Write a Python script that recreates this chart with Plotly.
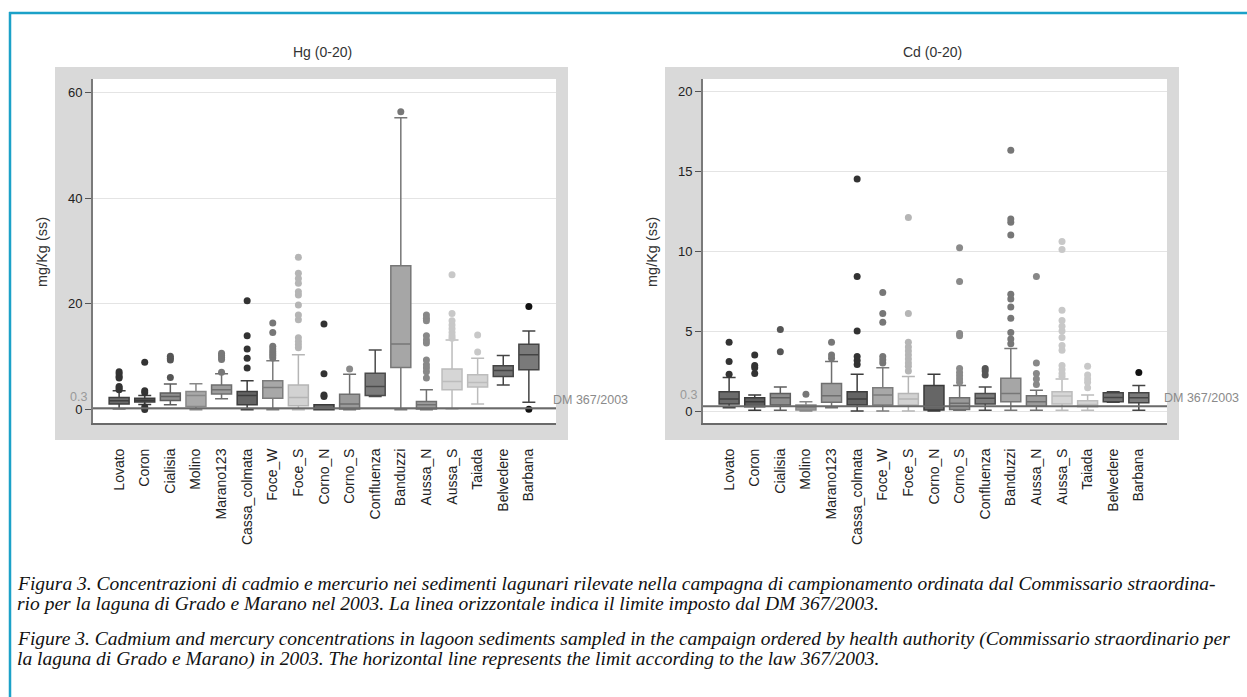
import plotly.graph_objects as go

# ---------------- data ----------------
categories = ["Lovato", "Coron", "Cialisia", "Molino", "Marano123", "Cassa_colmata",
              "Foce_W", "Foce_S", "Corno_N", "Corno_S", "Confluenza", "Banduzzi",
              "Aussa_N", "Aussa_S", "Taiada", "Belvedere", "Barbana"]

# Hg (0-20) mg/Kg
hg_q1 = [1.1, 1.45, 1.75, 0.63, 3.0, 0.95, 2.2, 0.75, 0.0, 0.13, 2.7, 8.0, 0.13, 3.8, 4.3, 6.3, 7.55]
hg_median = [1.7, 1.8, 2.5, 2.7, 3.8, 2.7, 4.2, 2.3, 0.15, 1.1, 4.4, 12.45, 0.95, 5.35, 5.15, 7.4, 10.4]
hg_q3 = [2.3, 2.2, 3.15, 3.45, 4.7, 3.45, 5.5, 4.7, 0.95, 2.95, 6.9, 27.2, 1.57, 7.7, 6.6, 8.3, 12.4]
hg_lower = [0.2, 1.0, 0.95, 0.0, 2.1, 0.0, 0.0, 0.0, 0.0, 0.0, 2.5, 0.0, 0.0, 0.1, 1.1, 4.7, 1.4]
hg_upper = [3.6, 2.7, 4.85, 4.9, 6.8, 5.5, 9.25, 10.4, 0.95, 6.7, 11.3, 55.2, 3.8, 13.2, 9.75, 10.25, 14.9]
hg_outliers = [
    [3.8, 4.1, 4.4, 6.0, 6.3, 6.8, 7.2],
    [0.05, 0.5, 3.2, 3.6, 9.0],
    [6.1, 9.4, 9.75, 10.1],
    [],
    [7.1, 9.5, 9.9, 10.3, 10.7],
    [7.9, 9.75, 11.5, 14.0, 20.6],
    [9.8, 10.2, 10.6, 11.0, 11.5, 12.0, 14.6, 16.4],
    [11.7, 12.3, 12.9, 13.6, 17.0, 17.9, 19.8, 21.7, 22.3, 23.9, 24.8, 25.8, 28.8],
    [2.5, 2.8, 6.8, 16.2],
    [7.7],
    [],
    [56.3],
    [6.0, 7.2, 7.9, 8.5, 9.4, 12.6, 13.2, 14.0, 16.8, 17.3, 17.9],
    [13.5, 14.0, 14.6, 15.3, 16.0, 16.8, 18.2, 25.5],
    [10.9, 14.15],
    [],
    [0.1, 19.5],
]

# Cd (0-20) mg/Kg
cd_q1 = [0.44, 0.27, 0.37, 0.06, 0.55, 0.37, 0.37, 0.37, 0.06, 0.1, 0.44, 0.58, 0.3, 0.44, 0.27, 0.58, 0.52]
cd_median = [0.75, 0.58, 0.83, 0.2, 0.95, 0.75, 1.0, 0.75, 0.3, 0.48, 0.8, 1.1, 0.58, 0.93, 0.4, 0.85, 0.83]
cd_q3 = [1.2, 0.83, 1.1, 0.37, 1.72, 1.2, 1.45, 1.1, 1.6, 0.83, 1.1, 2.05, 0.95, 1.2, 0.64, 1.14, 1.14]
cd_lower = [0.2, 0.05, 0.05, 0.0, 0.2, 0.0, 0.0, 0.0, 0.0, 0.05, 0.05, 0.05, 0.05, 0.05, 0.05, 0.55, 0.05]
cd_upper = [2.1, 1.0, 1.5, 0.58, 3.1, 2.3, 2.7, 2.15, 2.3, 1.6, 1.5, 3.9, 1.3, 2.0, 1.0, 1.2, 1.6]
cd_outliers = [
    [2.3, 3.1, 4.3],
    [2.35, 2.7, 2.85, 3.5],
    [3.7, 5.1],
    [1.04],
    [3.3, 3.5, 4.3],
    [2.9, 3.15, 3.4, 5.0, 8.4, 14.5],
    [3.0, 3.2, 3.4, 5.55, 6.1, 7.4],
    [2.5, 2.8, 3.0, 3.25, 3.5, 3.75, 4.0, 4.3, 6.1, 12.1],
    [],
    [1.8, 2.0, 2.2, 2.4, 2.65, 4.7, 4.85, 8.1, 10.2],
    [2.25, 2.5, 2.65],
    [4.2, 4.5, 4.9, 5.8, 6.5, 7.0, 7.3, 11.0, 11.8, 12.0, 16.3],
    [1.65, 2.0, 2.35, 3.0, 8.4],
    [2.15, 2.35, 2.6, 2.85, 3.8, 4.1, 4.6, 5.0, 5.3, 5.65, 6.3, 10.1, 10.6],
    [1.45, 1.8, 2.0, 2.25, 2.8],
    [],
    [2.4],
]

DM_LIMIT = 0.3
hg_ticks = [0, 20, 40, 60]
cd_ticks = [0, 5, 10, 15, 20]

caption_lines = [
    "Figura 3. Concentrazioni di cadmio e mercurio nei sedimenti lagunari rilevate nella campagna di campionamento ordinata dal Commissario straordina-",
    "rio per la laguna di Grado e Marano nel 2003. La linea orizzontale indica il limite imposto dal DM 367/2003.",
    "Figure 3. Cadmium and mercury concentrations in lagoon sediments sampled in the campaign ordered by health authority (Commissario straordinario per",
    "la laguna di Grado e Marano) in 2003. The horizontal line represents the limit according to the law 367/2003.",
]

# ---------------- styles ----------------
W, H = 1247, 697
fills = ["#6b6b6b", "#5e5e5e", "#8e8e8e", "#a9a9a9", "#9d9d9d", "#646464", "#a8a8a8", "#d2d2d2",
         "#666666", "#9a9a9a", "#7c7c7c", "#a6a6a6", "#9c9c9c", "#d6d6d6", "#d4d4d4", "#727272", "#7a7a7a"]
edges = ["#3f3f3f", "#3a3a3a", "#5e5e5e", "#888888", "#6f6f6f", "#3d3d3d", "#7c7c7c", "#b5b5b5",
         "#3a3a3a", "#6e6e6e", "#4b4b4b", "#777777", "#707070", "#bcbcbc", "#bcbcbc", "#444444", "#444444"]
outc = ["#333333", "#333333", "#555555", "#777777", "#777777", "#333333", "#777777", "#b5b5b5",
        "#333333", "#8a8a8a", "#555555", "#777777", "#888888", "#c8c8c8", "#c8c8c8", "#444444", "#111111"]
FONT = "Liberation Sans, Arial, sans-serif"


def px(x):
    return x / W


def py(y):
    return 1 - y / H


fig = go.Figure()


def add_panel(xa, ya, q1, med, q3, lo, up, outs):
    for i, c in enumerate(categories):
        fig.add_trace(go.Box(
            x=[c], q1=[q1[i]], median=[med[i]], q3=[q3[i]],
            lowerfence=[lo[i]], upperfence=[up[i]],
            xaxis=xa, yaxis=ya, fillcolor=fills[i],
            line=dict(color=edges[i], width=1.5), width=0.78, whiskerwidth=0.65,
            boxpoints=False, showlegend=False, hoverinfo="skip"))
    xs, ys, cs = [], [], []
    for i, c in enumerate(categories):
        for v in outs[i]:
            xs.append(c)
            ys.append(v)
            cs.append(outc[i])
    fig.add_trace(go.Scatter(x=xs, y=ys, xaxis=xa, yaxis=ya, mode="markers",
                             marker=dict(color=cs, size=7, line=dict(width=0)),
                             showlegend=False, hoverinfo="skip"))


add_panel("x", "y", hg_q1, hg_median, hg_q3, hg_lower, hg_upper, hg_outliers)
add_panel("x2", "y2", cd_q1, cd_median, cd_q3, cd_lower, cd_upper, cd_outliers)

ydom = [py(423), py(79)]
xcommon = dict(type="category", categoryorder="array", categoryarray=categories,
               tickangle=-90, showline=True, linecolor="#6a6a6a", linewidth=2,
               ticks="", showgrid=False, zeroline=False, ticklabelstandoff=18,
               tickfont=dict(family=FONT, size=14, color="#222"))
ycommon = dict(showgrid=True, gridcolor="#e4e4e4", gridwidth=1, zeroline=False,
               showline=True, linecolor="#7a7a7a", linewidth=2, ticks="outside",
               ticklen=6, tickcolor="#555", tickwidth=1,
               tickfont=dict(family=FONT, size=13, color="#222"))

fig.update_layout(
    width=W, height=H, margin=dict(l=0, r=0, t=0, b=0),
    paper_bgcolor="white", plot_bgcolor="rgba(0,0,0,0)",
    xaxis=dict(domain=[px(93), px(556)], anchor="y", range=[-1.02, 17.06], **xcommon),
    yaxis=dict(domain=ydom, anchor="x", range=[-2.5, 62.5], tickvals=hg_ticks, **ycommon),
    xaxis2=dict(domain=[px(703), px(1167)], anchor="y2", range=[-1.02, 17.1], **xcommon),
    yaxis2=dict(domain=ydom, anchor="x2", range=[-0.75, 20.75], tickvals=cd_ticks, **ycommon),
)

shapes = []
# gray panels and white plot areas
for gx0, gx1, wx0, wx1 in [(55, 568, 93, 556), (665, 1179, 703, 1167)]:
    shapes.append(dict(type="rect", xref="paper", yref="paper", x0=px(gx0), x1=px(gx1),
                       y0=py(440), y1=py(67), fillcolor="#d9d9d9", line=dict(width=0), layer="below"))
    shapes.append(dict(type="rect", xref="paper", yref="paper", x0=px(wx0), x1=px(wx1),
                       y0=py(423), y1=py(79), fillcolor="white", line=dict(width=0), layer="below"))
# DM limit lines
for xr, yr in [("x domain", "y"), ("x2 domain", "y2")]:
    shapes.append(dict(type="line", xref=xr, yref=yr, x0=0, x1=1, y0=DM_LIMIT, y1=DM_LIMIT,
                       line=dict(color="#6a6a6a", width=2), layer="above"))
# page border
shapes.append(dict(type="line", xref="paper", yref="paper", x0=px(9), x1=1, y0=py(13), y1=py(13),
                   line=dict(color="#1ba1c8", width=2.5)))
shapes.append(dict(type="line", xref="paper", yref="paper", x0=px(10), x1=px(10), y0=0, y1=py(12),
                   line=dict(color="#1ba1c8", width=2.5)))
fig.update_layout(shapes=shapes)

ann = []
for xc, t in [(322, "Hg (0-20)"), (932, "Cd (0-20)")]:
    ann.append(dict(x=px(xc), y=py(52), xref="paper", yref="paper", text=t, showarrow=False,
                    xanchor="center", yanchor="middle", font=dict(family=FONT, size=14, color="#333")))
for xc in [42, 652]:
    ann.append(dict(x=px(xc), y=py(252), xref="paper", yref="paper", text="mg/Kg (ss)",
                    showarrow=False, textangle=-90, xanchor="center", yanchor="middle",
                    font=dict(family=FONT, size=14.5, color="#333")))
for xr, yr in [("x domain", "y"), ("x2 domain", "y2")]:
    ann.append(dict(x=0, y=DM_LIMIT, xref=xr, yref=yr, text="0.3", showarrow=False,
                    xanchor="right", yanchor="middle", xshift=-4, yshift=11,
                    font=dict(family=FONT, size=12.5, color="#9a9a9a")))
    ann.append(dict(x=1, y=DM_LIMIT, xref=xr, yref=yr, text="DM 367/2003", showarrow=False,
                    xanchor="left", yanchor="middle", xshift=-5, yshift=8,
                    font=dict(family=FONT, size=12.5, color="#8a8a8a")))
for yc, t in zip([583, 603, 639, 659], caption_lines):
    ann.append(dict(x=px(15), y=py(yc), xref="paper", yref="paper", text=t, showarrow=False,
                    xanchor="left", yanchor="middle",
                    font=dict(family="Liberation Serif, serif", size=19.5, color="#111", style="italic")))
fig.update_layout(annotations=ann)

fig.write_html("out.html", config={"displayModeBar": False},
               post_script="document.body.style.margin='0px';document.body.style.padding='0px';")
